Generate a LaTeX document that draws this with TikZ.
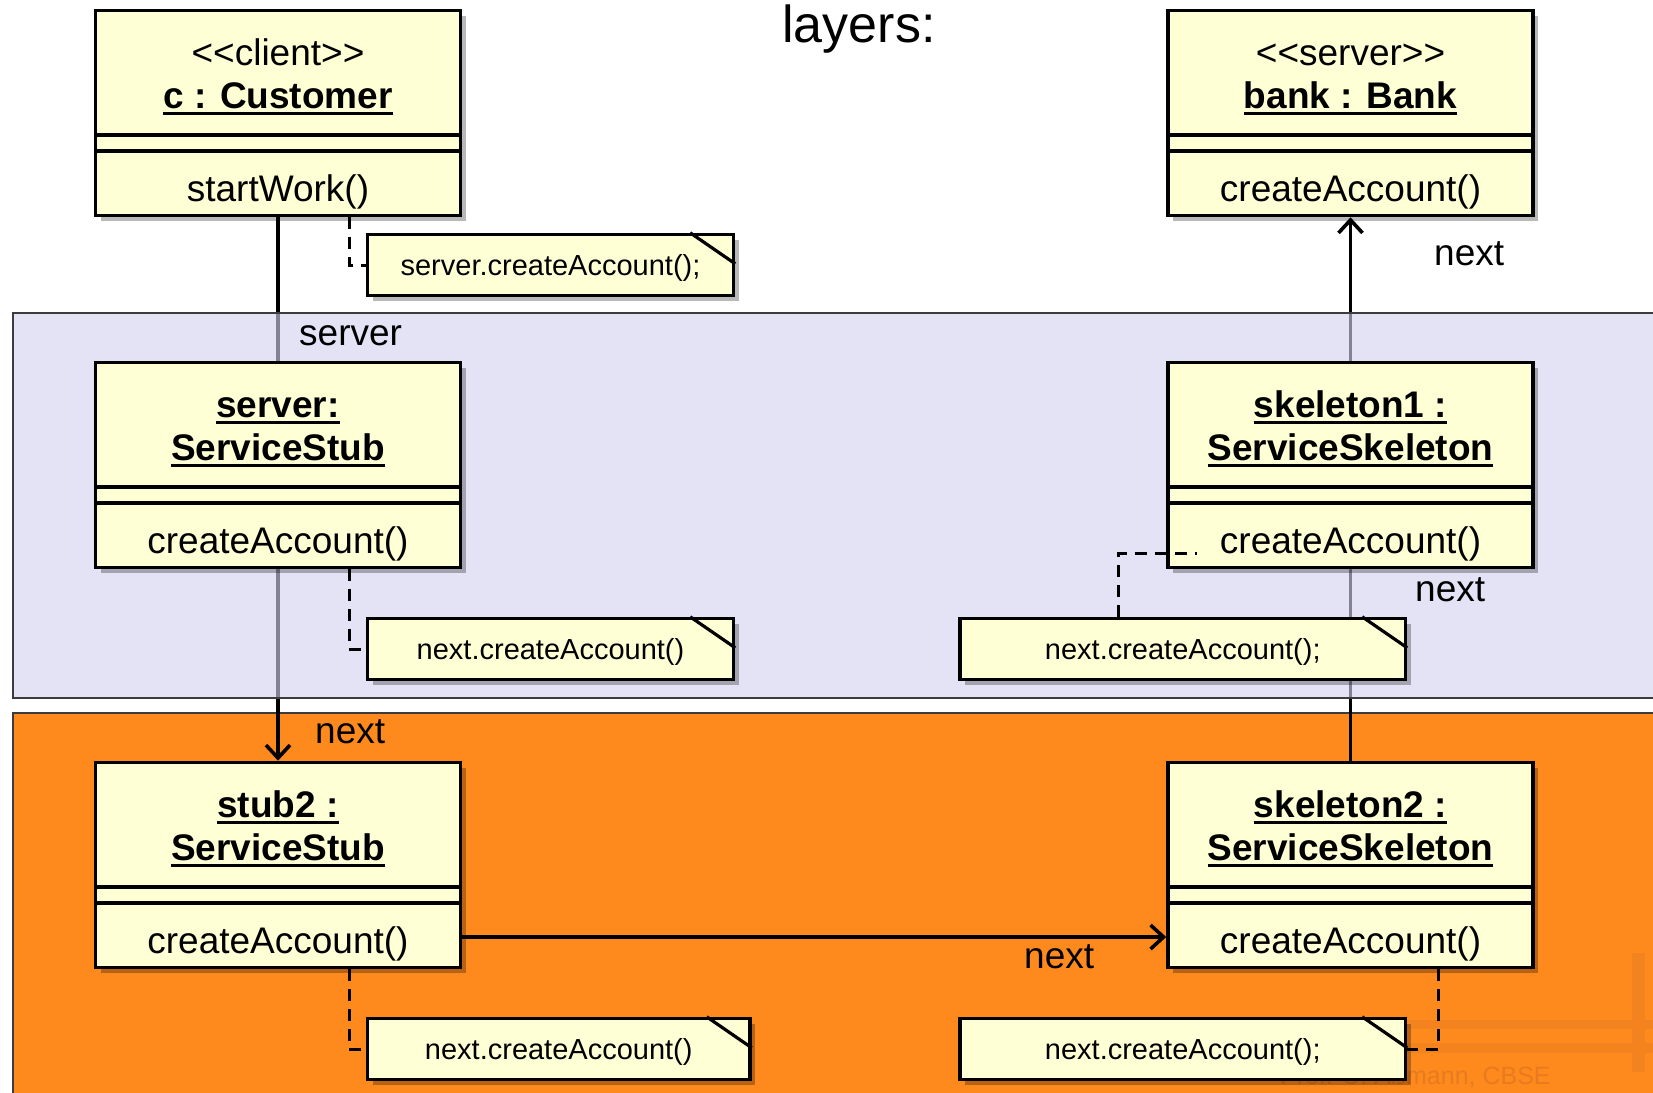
\documentclass[tikz,border=0pt]{standalone}
\usepackage{fontspec}
\setmainfont{Liberation Sans}[Ligatures=TeXOff]
\usetikzlibrary{shadows,arrows.meta}
\definecolor{boxfill}{RGB}{255,255,213}
\definecolor{lavfill}{RGB}{210,210,239}
\definecolor{orangebg}{RGB}{254,137,28}
\definecolor{wmarkbar}{RGB}{243,131,30}
\definecolor{wmarktext}{RGB}{232,123,32}
\definecolor{layerborder}{RGB}{60,60,60}
\pgfdeclarelayer{bg}
\pgfdeclarelayer{lines}
\pgfdeclarelayer{lav}
\pgfsetlayers{bg,lines,lav,main}
\newcommand\myul[1]{\setbox0\hbox{#1}\rlap{\rule[-6.5pt]{\wd0}{3pt}}\box0}
\tikzset{
  objbox/.style={draw=black, line width=3.6pt, fill=boxfill, inner sep=0pt,
    minimum width=365pt, minimum height=205pt,
    drop shadow={shadow xshift=5pt, shadow yshift=-5pt, opacity=0.28, fill=black}},
  notebox/.style={draw=black, line width=3.4pt, fill=boxfill, inner sep=0pt,
    minimum height=61pt,
    drop shadow={shadow xshift=5pt, shadow yshift=-5pt, opacity=0.28, fill=black}},
  sepline/.style={line width=3.6pt},
  foldline/.style={line width=3.2pt},
  clstext/.style={font=\fontsize{37}{41}\selectfont, anchor=base, inner sep=0pt},
  notetext/.style={font=\fontsize{29}{33}\selectfont, anchor=base, inner sep=0pt},
  lbl/.style={font=\fontsize{37}{41}\selectfont, anchor=base west, inner sep=0pt},
  assoc/.style={line width=3.2pt, black},
  navarrow/.style={assoc, -{Straight Barb[length=13pt, width=24pt, line width=3.6pt]}},
  noteline/.style={line width=3pt, dash pattern=on 12pt off 8pt},
  layerbox/.style={draw=layerborder, line width=2.2pt}
}
\newcommand\umlobj[6]{%
  \node[objbox] (#1) at (#2,#3+104) {};
  \draw[sepline] ([yshift=-126pt]#1.north west) -- ([yshift=-126pt]#1.north east);
  \draw[sepline] ([yshift=-142.5pt]#1.north west) -- ([yshift=-142.5pt]#1.north east);
  \node[clstext] (#1-a) at (#2,#3+56) {#4};
  \node[clstext] (#1-b) at (#2,#3+99) {#5};
  \node[clstext] (#1-c) at (#2,#3+192) {#6};
}
\newcommand\umlnote[6]{% name, cx, top, pathwidth, text
  \node[notebox, minimum width=#4pt] (#1) at (#2,#3+32) {};
  \draw[foldline] ([xshift=-45pt]#1.north east) -- ([yshift=-31pt]#1.north east);
  \node[notetext] (#1-t) at (#2,#3+42) {#5};
}
\begin{document}
\begin{tikzpicture}[x=1pt,y=-1pt]
\useasboundingbox (0,0) rectangle (1653,1092);

% background and layers
\begin{pgfonlayer}{bg}
  \fill[white] (0,0) rectangle (1653,1092);
  \filldraw[layerbox, fill=orangebg] (13,713) rectangle (1720,1120);
  % faint watermark
  \fill[wmarkbar] (1632,953) rectangle (1645,1072);
  \fill[wmarkbar] (1380,1020) rectangle (1660,1029);
  \fill[wmarkbar] (1380,1043) rectangle (1660,1053);
  \node[font=\fontsize{25}{29}\selectfont, text=wmarktext, anchor=base west, inner sep=0pt]
    (wm) at (1280,1084) {Prof. U. Aßmann, CBSE};
\end{pgfonlayer}

\begin{pgfonlayer}{lav}
  \fill[lavfill, fill opacity=0.62] (13,313) rectangle (1720,698);
  \draw[layerbox] (13,313) rectangle (1720,698);
\end{pgfonlayer}

% title
\node[font=\fontsize{52}{60}\selectfont, anchor=base, inner sep=0pt] (title) at (859,42) {layers:};

% objects
\umlobj{cust}{278}{9}{<<client>>}{\myul{\bfseries c : Customer}}{startWork()}
\umlobj{bank}{1350.5}{9}{<<server>>}{\myul{\bfseries bank : Bank}}{createAccount()}
\umlobj{stub}{278}{361}{\myul{\bfseries server:}}{\myul{\bfseries ServiceStub}}{createAccount()}
\umlobj{skelA}{1350.5}{361}{\myul{\bfseries skeleton1 :}}{\myul{\bfseries ServiceSkeleton}}{createAccount()}
\umlobj{stubB}{278}{761}{\myul{\bfseries stub2 :}}{\myul{\bfseries ServiceStub}}{createAccount()}
\umlobj{skelB}{1350.5}{761}{\myul{\bfseries skeleton2 :}}{\myul{\bfseries ServiceSkeleton}}{createAccount()}

% notes
\umlnote{noteA}{550.5}{233}{366}{server.createAccount();}{}
\umlnote{noteB}{550.5}{617}{366}{next.createAccount()}{}
\umlnote{noteC}{1182.75}{617}{445.5}{next.createAccount();}{}
\umlnote{noteD}{558.75}{1017}{382.5}{next.createAccount()}{}
\umlnote{noteE}{1182.75}{1017}{445.5}{next.createAccount();}{}

% note attachments
\coordinate (cEnd) at (1197,553);
\draw[noteline] ([xshift=71pt]cust.south) |- (noteA.west);
\draw[noteline] ([xshift=71pt]stub.south) |- (noteB.west);
\draw[noteline] ([xshift=-64pt]noteC.north) |- (cEnd);
\draw[noteline] ([xshift=71pt]stubB.south) |- (noteD.west);
\draw[noteline] ([xshift=88pt]skelB.south) |- (noteE.east);

% associations (under the lavender layer)
\begin{pgfonlayer}{lines}
  \draw[assoc] (cust.south) -- (stub.north);
  \draw[navarrow] (stub.south) -- (stubB.north);
  \draw[navarrow] ([yshift=-72pt]stubB.east) -- ([yshift=-72pt]skelB.west);
  \draw[assoc] (skelB.north) -- (skelA.south);
  \draw[navarrow] (skelA.north) -- (bank.south);
\end{pgfonlayer}

% labels
\node[lbl] (lserver) at (299,345) {server};
\node[lbl] (lnextA) at (1434,265) {next};
\node[lbl] (lnextB) at (1415,601) {next};
\node[lbl] (lnextC) at (315,743) {next};
\node[lbl] (lnextD) at (1024,968) {next};
\end{tikzpicture}
\end{document}
